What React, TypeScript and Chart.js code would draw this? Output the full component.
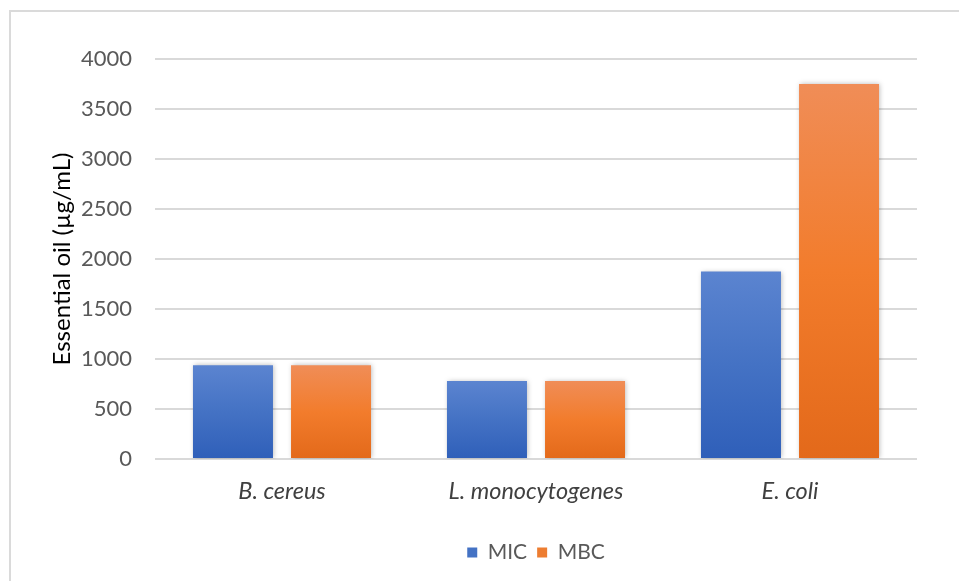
import React, { useEffect, useRef } from "react";
import { Chart, registerables } from "chart.js";

Chart.register(...registerables);

const categories = ["B. cereus", "L. monocytogenes", "E. coli"];
const micValues = [937.5, 781.25, 1875];
const mbcValues = [937.5, 781.25, 3750];
const seriesNames = ["MIC", "MBC"];
const yTitle = "Essential oil (µg/mL)";

const FONT = "Lato";

function makeGradient(stops: string[]) {
  return (ctx: any) => {
    const chart = ctx.chart;
    const { chartArea, scales } = chart;
    if (!chartArea || !scales || !scales.y || ctx.type !== "data") return stops[1];
    const v = ctx.raw as number;
    const top = scales.y.getPixelForValue(v);
    const bottom = scales.y.getPixelForValue(0);
    if (!isFinite(top) || !isFinite(bottom) || top === bottom) return stops[1];
    const g = chart.ctx.createLinearGradient(0, top, 0, bottom);
    g.addColorStop(0, stops[0]);
    g.addColorStop(0.5, stops[1]);
    g.addColorStop(1, stops[2]);
    return g;
  };
}

const blueStops = ["#5b84d0", "#4472c4", "#2f5fb9"];
const orangeStops = ["#f08d57", "#f27c2c", "#e3691a"];

const shadowPlugin = {
  id: "barShadow",
  beforeDatasetsDraw(chart: any) {
    const c = chart.ctx;
    c.save();
    c.shadowColor = "rgba(0,0,0,0.28)";
    c.shadowBlur = 5;
    c.shadowOffsetX = 1;
    c.shadowOffsetY = 0;
  },
  afterDatasetsDraw(chart: any) {
    chart.ctx.restore();
  },
};

export default function App() {
  const ref = useRef<HTMLCanvasElement | null>(null);

  useEffect(() => {
    if (!ref.current) return;
    const chart = new Chart(ref.current, {
      type: "bar",
      data: {
        labels: categories,
        datasets: [
          {
            label: seriesNames[0],
            data: micValues,
            backgroundColor: makeGradient(blueStops) as any,
            borderWidth: 0,
            categoryPercentage: 0.772,
            barPercentage: 0.816,
          },
          {
            label: seriesNames[1],
            data: mbcValues,
            backgroundColor: makeGradient(orangeStops) as any,
            borderWidth: 0,
            categoryPercentage: 0.772,
            barPercentage: 0.816,
          },
        ],
      },
      options: {
        animation: false,
        responsive: false,
        maintainAspectRatio: false,
        layout: { padding: { left: 0, right: 42, top: 59, bottom: 8 } },
        plugins: {
          tooltip: { enabled: false },
          legend: {
            position: "bottom",
            fullSize: false,
            labels: {
              boxWidth: 10,
              boxHeight: 10,
              padding: 10,
              color: "#595959",
              font: { family: FONT, size: 21 },
              generateLabels: () => [
                { text: seriesNames[0], fillStyle: "#4472c4", strokeStyle: "#4472c4", lineWidth: 0, datasetIndex: 0, fontColor: "#595959" } as any,
                { text: seriesNames[1], fillStyle: "#ed7d31", strokeStyle: "#ed7d31", lineWidth: 0, datasetIndex: 1, fontColor: "#595959" } as any,
              ],
            },
          },
        },
        scales: {
          x: {
            grid: { display: false, drawTicks: false },
            border: { display: false },
            ticks: {
              color: "#404040",
              padding: 18,
              font: { family: FONT, size: 23.5, style: "italic" },
            },
            afterFit: (s: any) => {
              s.height = 73;
            },
          },
          y: {
            min: 0,
            max: 4000,
            grid: { color: "#d9d9d9", lineWidth: 2, drawTicks: false },
            border: { display: false },
            ticks: {
              stepSize: 500,
              color: "#595959",
              padding: 23,
              font: { family: FONT, size: 22 },
              callback: (v: any) => String(v),
            },
            title: {
              display: true,
              text: yTitle,
              color: "#000000",
              padding: { top: 48, bottom: 0 },
              font: { family: FONT, size: 24 },
            },
            afterFit: (s: any) => {
              s.width = 155;
            },
          },
        },
      },
      plugins: [shadowPlugin],
    });
    return () => chart.destroy();
  }, []);

  return (
    <div
      style={{
        position: "fixed",
        left: 0,
        top: 0,
        width: 959,
        height: 581,
        overflow: "hidden",
        background: "#ffffff",
      }}
    >
      <canvas ref={ref} width={959} height={581} style={{ position: "absolute", left: 0, top: 0 }} />
      <div
        style={{
          position: "absolute",
          left: 9,
          top: 10,
          width: 2000,
          height: 2000,
          borderLeft: "2px solid #dadada",
          borderTop: "2px solid #dadada",
          pointerEvents: "none",
        }}
      />
    </div>
  );
}
